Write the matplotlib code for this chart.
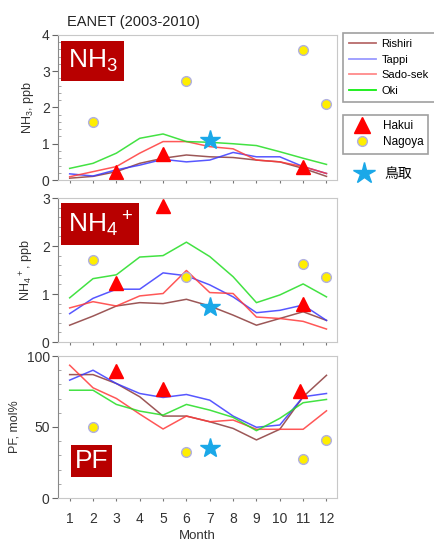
import numpy as np
import matplotlib
matplotlib.use('Agg')
import matplotlib.pyplot as plt
from matplotlib.lines import Line2D
from matplotlib.ticker import MultipleLocator

plt.rcParams['font.family'] = ['Liberation Sans', 'DejaVu Sans']
plt.rcParams['mathtext.default'] = 'regular'

months = np.arange(1, 13)

# NH3, ppb
nh3_rishiri = [0.05, 0.10, 0.23, 0.46, 0.60, 0.69, 0.64, 0.62, 0.55, 0.50, 0.32, 0.10]
nh3_tappi = [0.17, 0.11, 0.28, 0.41, 0.57, 0.50, 0.55, 0.76, 0.64, 0.64, 0.37, 0.18]
nh3_sado = [0.09, 0.23, 0.37, 0.74, 1.06, 1.06, 0.92, 0.86, 0.55, 0.50, 0.37, 0.18]
nh3_oki = [0.32, 0.46, 0.74, 1.15, 1.27, 1.06, 1.04, 1.00, 0.95, 0.78, 0.60, 0.43]
nh3_hakui_m = [3, 5, 11]
nh3_hakui = [0.23, 0.72, 0.37]
nh3_nagoya_m = [2, 6, 11, 12]
nh3_nagoya = [1.61, 2.74, 3.59, 2.10]
nh3_tottori = 1.10

# NH4+, ppb
nh4_rishiri = [0.35, 0.54, 0.75, 0.82, 0.80, 0.89, 0.75, 0.56, 0.35, 0.49, 0.63, 0.45]
nh4_tappi = [0.59, 0.91, 1.10, 1.10, 1.44, 1.38, 1.19, 0.94, 0.61, 0.66, 0.77, 0.45]
nh4_sado = [0.71, 0.84, 0.75, 0.96, 1.01, 1.49, 1.03, 1.01, 0.52, 0.49, 0.43, 0.27]
nh4_oki = [0.92, 1.32, 1.40, 1.77, 1.80, 2.08, 1.78, 1.36, 0.82, 0.98, 1.21, 0.94]
nh4_hakui = [1.22, 2.83, 0.79]
nh4_nagoya = [1.71, 1.36, 1.62, 1.36]
nh4_tottori = 0.72

# PF, mol%
pf_rishiri = [86.9, 86.9, 80.6, 71.3, 57.7, 57.7, 53.7, 49.0, 40.9, 48.4, 71.3, 86.4]
pf_tappi = [83.0, 90.0, 80.6, 73.6, 70.8, 72.9, 68.9, 57.7, 49.8, 51.4, 71.3, 73.6]
pf_sado = [93.5, 77.6, 70.1, 59.1, 48.6, 57.7, 53.7, 54.9, 48.4, 48.4, 48.4, 61.4]
pf_oki = [75.9, 75.9, 65.9, 61.2, 58.4, 65.9, 61.9, 56.8, 47.4, 56.1, 67.1, 69.4]
pf_hakui_m = [3, 5, 10.85]
pf_hakui = [89.3, 77.1, 75.2]
pf_nagoya = [49.8, 32.2, 27.3, 40.9]
pf_tottori = 35.5

line_colors = {'Rishiri': '#8b3a3a', 'Tappi': '#3a3aff', 'Sado-sek': '#ff3a3a', 'Oki': '#22dd22'}
legend_colors = {'Rishiri': '#b86b6b', 'Tappi': '#9a9aff', 'Sado-sek': '#ff8a8a', 'Oki': '#11ee11'}

fig = plt.figure(figsize=(4.34, 5.41), dpi=100)
W, H = 434, 541


def make_ax(top, bottom):
    return fig.add_axes([58 / W, (H - bottom) / H, 279 / W, (bottom - top) / H])


panels = [
    (make_ax(35, 180), [nh3_rishiri, nh3_tappi, nh3_sado, nh3_oki], nh3_hakui_m, nh3_hakui,
     nh3_nagoya, nh3_tottori, (0, 4), 1, 0.2, 'NH$_3$, ppb', 'NH$_3$'),
    (make_ax(198, 342), [nh4_rishiri, nh4_tappi, nh4_sado, nh4_oki], nh3_hakui_m, nh4_hakui,
     nh4_nagoya, nh4_tottori, (0, 3), 1, 0.2, 'NH$_4$$^+$, ppb', 'NH$_4$$^+$'),
    (make_ax(356, 498), [pf_rishiri, pf_tappi, pf_sado, pf_oki], pf_hakui_m, pf_hakui,
     pf_nagoya, pf_tottori, (0, 100), 50, 10, 'PF, mol%', 'PF'),
]

for i, (ax, series, hm, hv, nv, tv, ylim, major, minor, ylabel, tag) in enumerate(panels):
    for name, vals in zip(line_colors, series):
        ax.plot(months, vals, color=line_colors[name], lw=1.1, alpha=0.85)
    ax.plot(hm, hv, '^', color='#ff0000', ms=10, mec='#ff0000', ls='none')
    ax.plot(nh3_nagoya_m, nv, 'o', color='#ffee00', ms=7, mec='#b0b0e0', mew=1, ls='none')
    ax.plot([7], [tv], '*', color='#1aa8e8', ms=15, ls='none')
    ax.set_xlim(0.5, 12.45)
    ax.set_ylim(*ylim)
    ax.yaxis.set_major_locator(MultipleLocator(major))
    ax.yaxis.set_minor_locator(MultipleLocator(minor))
    ax.set_xticks(months)
    ax.tick_params(axis='y', which='major', direction='out', length=4, color='#666666',
                   labelsize=10, labelcolor='#333333', pad=2)
    ax.tick_params(axis='y', which='minor', direction='in', length=2, color='#999999')
    ax.tick_params(axis='x', direction='out', length=2, color='#777777', labelsize=10,
                   labelcolor='#333333', top=False, pad=8)
    for s in ['top', 'right', 'bottom']:
        ax.spines[s].set_color('#c8c8c8')
    ax.spines['left'].set_color('#888888')
    ax.set_ylabel(ylabel, fontsize=9, color='#333333', labelpad=4)
    if i < 2:
        ax.tick_params(axis='x', labelbottom=False)
    if i == 2:
        ax.set_xlabel('Month', fontsize=9.5, color='#333333', labelpad=3)
        ax.text(0.06, 0.26, tag, transform=ax.transAxes, fontsize=19, color='white',
                va='center', ha='left',
                bbox=dict(boxstyle='square,pad=0.15', fc='#b80000', ec='none'))
    else:
        ax.text(0.035, 0.82, tag, transform=ax.transAxes, fontsize=19, color='white',
                va='center', ha='left',
                bbox=dict(boxstyle='square,pad=0.25', fc='#b80000', ec='none'))

fig.text(67 / W, 1 - 22 / H, 'EANET (2003-2010)', fontsize=10.5, color='#222222', va='center')

h1 = [Line2D([], [], color=legend_colors[n], lw=1.3) for n in legend_colors]
leg1 = fig.legend(h1, list(legend_colors), loc='upper left', bbox_to_anchor=(343 / W, 1 - 33 / H),
                  borderaxespad=0, fontsize=8, frameon=True, fancybox=False, edgecolor='#888888',
                  handlelength=2.4, handletextpad=0.5, labelspacing=0.5, borderpad=0.55)
leg1.get_frame().set_linewidth(1.2)

h2 = [Line2D([], [], marker='^', color='#ff0000', ms=11, ls='none'),
      Line2D([], [], marker='o', color='#ffee00', mec='#b0b0e0', ms=7, ls='none')]
leg2 = fig.legend(h2, ['Hakui', 'Nagoya'], loc='upper left', bbox_to_anchor=(343 / W, 1 - 115 / H),
                  borderaxespad=0, fontsize=8.5, frameon=True, fancybox=False, edgecolor='#888888',
                  handlelength=2.4, handletextpad=0.5, labelspacing=0.35, borderpad=0.45)
leg2.get_frame().set_linewidth(1.2)

h3 = [Line2D([], [], marker='*', color='#1aa8e8', ms=16, ls='none')]
leg3 = fig.legend(h3, ['鳥取'], loc='upper left', bbox_to_anchor=(343 / W, 1 - 161 / H),
                  borderaxespad=0, frameon=False, handlelength=2.2, handletextpad=0.4,
                  prop={'family': ['Noto Sans CJK JP', 'DejaVu Sans'], 'size': 10})

fig.savefig('out.png', dpi=100)
